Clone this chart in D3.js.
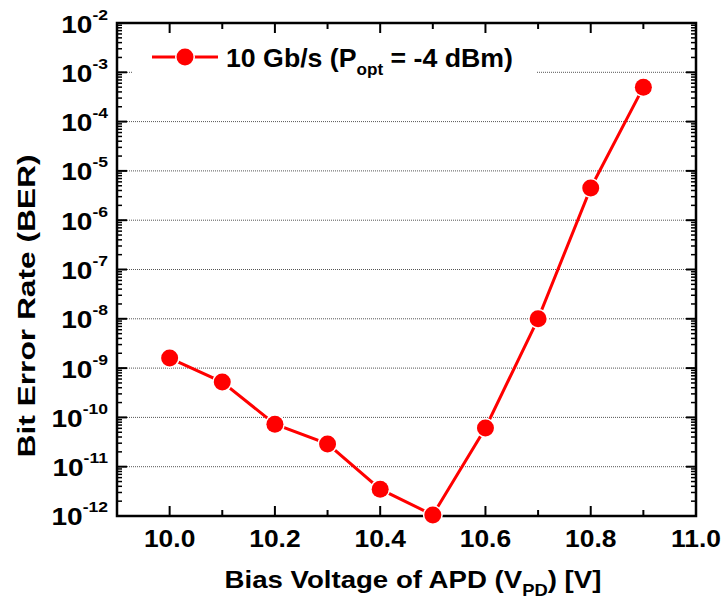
<!DOCTYPE html>
<html>
<head>
<meta charset="utf-8">
<script src="https://cdn.jsdelivr.net/npm/d3@7"></script>
<style>
  body { margin: 0; background: #fff; }
  text { font-family: "Liberation Sans", Arial, sans-serif; font-weight: bold; }
</style>
</head>
<body>
<svg class="chart" width="725" height="603"></svg>
<script>
// data
const voltages = [10.0, 10.1, 10.2, 10.3, 10.4, 10.5, 10.6, 10.7, 10.8, 10.9];
const ber = [1.6e-9, 5.2e-10, 7.3e-11, 2.9e-11, 3.5e-12, 1.05e-12, 6.1e-11, 1.0e-8, 4.5e-6, 5.0e-4];
const xTicks = [10.0, 10.2, 10.4, 10.6, 10.8, 11.0];
const yExponents = [-12, -11, -10, -9, -8, -7, -6, -5, -4, -3, -2];

const svg = d3.select('.chart');
const margin = { top: 23, right: 29, bottom: 87, left: 117 };
const width = +svg.attr('width');
const height = +svg.attr('height');
const innerWidth = width - margin.left - margin.right;
const innerHeight = height - margin.top - margin.bottom;

const xScale = d3.scaleLinear().domain([9.9, 11.0]).range([0, innerWidth]);
const yScale = d3.scaleLog().domain([1e-12, 1e-2]).range([innerHeight, 0]);

const g = svg.append('g')
  .attr('transform', `translate(${margin.left},${margin.top})`);

//stretch a text horizontally around x0 so it is w pixels wide (the picture's font runs wide)
function stretch(sel, x0, w) {
  sel.each(function() {
    const s = w / this.getBBox().width;
    d3.select(this).attr('transform', `translate(${x0},0) scale(${s},1) translate(${-x0},0)`);
  });
}

//dotted grid lines at every decade inside the plot
g.append('g')
  .selectAll('line')
  .data(yExponents.slice(1, -1))
  .join('line')
  .attr('x1', 0).attr('x2', innerWidth)
  .attr('y1', d => yScale(Math.pow(10, d)))
  .attr('y2', d => yScale(Math.pow(10, d)))
  .attr('stroke', '#555')
  .attr('stroke-width', 1)
  .attr('stroke-dasharray', '1,1');

//minor log ticks
const minorY = [];
yExponents.slice(0, -1).forEach(e => {
  for (let k = 2; k <= 9; k++) minorY.push(k * Math.pow(10, e));
});
const majorY = yExponents.map(e => Math.pow(10, e));
const minorX = d3.range(0, 11).map(i => +(9.9 + i * 0.1).toFixed(1)).filter(v => !xTicks.includes(v));

const ticks = g.append('g').attr('stroke', '#000');
// left + right
[[0, 1], [innerWidth, -1]].forEach(([x0, dir]) => {
  ticks.selectAll(null).data(majorY).join('line')
    .attr('x1', x0).attr('x2', x0 + dir * 10)
    .attr('y1', d => yScale(d)).attr('y2', d => yScale(d))
    .attr('stroke-width', 2);
  ticks.selectAll(null).data(minorY).join('line')
    .attr('x1', x0).attr('x2', x0 + dir * 5)
    .attr('y1', d => yScale(d)).attr('y2', d => yScale(d))
    .attr('stroke-width', 1.5);
});
// bottom + top
[[innerHeight, -1], [0, 1]].forEach(([y0, dir]) => {
  ticks.selectAll(null).data(xTicks).join('line')
    .attr('y1', y0).attr('y2', y0 + dir * 10)
    .attr('x1', d => xScale(d)).attr('x2', d => xScale(d))
    .attr('stroke-width', 2);
  ticks.selectAll(null).data(minorX).join('line')
    .attr('y1', y0).attr('y2', y0 + dir * 6)
    .attr('x1', d => xScale(d)).attr('x2', d => xScale(d))
    .attr('stroke-width', 2);
});

//frame
g.append('rect')
  .attr('width', innerWidth).attr('height', innerHeight)
  .attr('fill', 'none').attr('stroke', '#000').attr('stroke-width', 2.5);

//x tick labels
g.append('g')
  .selectAll('text')
  .data(xTicks)
  .join('text')
  .attr('x', d => xScale(d))
  .attr('y', innerHeight + 31)
  .attr('text-anchor', 'middle')
  .attr('font-size', 24)
  .text(d => d.toFixed(1))
  .attr('transform', d => `translate(${xScale(d)},0) scale(1.1,1) translate(${-xScale(d)},0)`);

//y tick labels with superscript exponents
const yl = g.append('g')
  .selectAll('text')
  .data(yExponents)
  .join('text')
  .attr('x', -9)
  .attr('y', d => yScale(Math.pow(10, d)) + 9.5)
  .attr('text-anchor', 'end')
  .attr('font-size', 24)
  .attr('transform', 'translate(-9,0) scale(1.17,1) translate(9,0)');
yl.append('tspan').text('10');
yl.append('tspan').attr('font-size', 15).attr('dy', -13).text(d => d);

//series line and markers
const line = d3.line()
  .x((d, i) => xScale(voltages[i]))
  .y(d => yScale(d));

g.append('path')
  .datum(ber)
  .attr('d', line)
  .attr('fill', 'none')
  .attr('stroke', '#ff0000')
  .attr('stroke-width', 3);

g.append('g')
  .selectAll('circle')
  .data(ber)
  .join('circle')
  .attr('cx', (d, i) => xScale(voltages[i]))
  .attr('cy', d => yScale(d))
  .attr('r', 8.5)
  .attr('fill', '#ff0000')
  .attr('stroke', '#fff')
  .attr('stroke-width', 3)
  .attr('paint-order', 'stroke');

//legend
const lg = svg.append('g');
lg.append('rect')
  .attr('x', 132).attr('y', 38).attr('width', 404).attr('height', 40)
  .attr('fill', '#fff');
lg.append('line')
  .attr('x1', 152).attr('x2', 218).attr('y1', 57).attr('y2', 57)
  .attr('stroke', '#ff0000').attr('stroke-width', 3);
lg.append('circle')
  .attr('cx', 185).attr('cy', 57).attr('r', 8.5)
  .attr('fill', '#ff0000').attr('stroke', '#fff').attr('stroke-width', 3)
  .attr('paint-order', 'stroke');
const lt = lg.append('text').attr('x', 226).attr('y', 67).attr('font-size', 25);
lt.append('tspan').text('10 Gb/s (P');
lt.append('tspan').attr('font-size', 16).attr('dy', 8).text('opt');
lt.append('tspan').attr('dy', -8).text(' = -4 dBm)');
stretch(lt, 226, 287);

//axis titles
const xt = svg.append('text')
  .attr('x', 413)
  .attr('y', 588)
  .attr('text-anchor', 'middle')
  .attr('font-size', 24);
xt.append('tspan').text('Bias Voltage of APD (V');
xt.append('tspan').attr('font-size', 16).attr('dy', 8).text('PD');
xt.append('tspan').attr('dy', -8).text(') [V]');
stretch(xt, 413, 377);

const yt = svg.append('g')
  .attr('transform', 'translate(35, 306) rotate(-90)');
yt.append('text')
  .attr('x', 0).attr('y', 0)
  .attr('text-anchor', 'middle')
  .attr('font-size', 24)
  .text('Bit Error Rate (BER)')
  .call(stretch, 0, 303);
</script>
</body>
</html>
